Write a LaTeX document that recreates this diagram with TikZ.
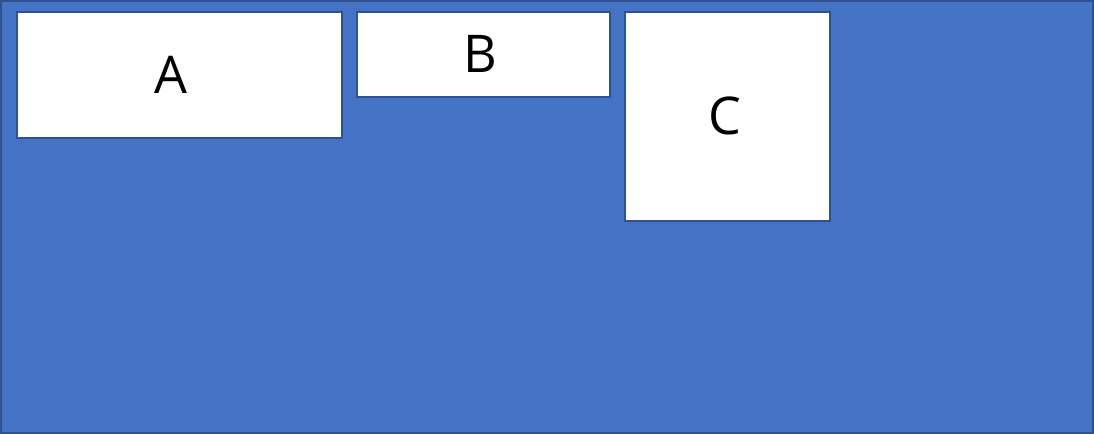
\documentclass[tikz,border=0pt]{standalone}
\usepackage{fontspec}
\setmainfont{Open Sans}
\usepackage{xcolor}
\definecolor{panelblue}{HTML}{4472C4}
\definecolor{edgeblue}{HTML}{2F528F}
\tikzset{
  panel/.style={fill=panelblue, draw=edgeblue, line width=1.4pt},
  card/.style={fill=white, draw=edgeblue, line width=1.2pt, anchor=north west,
    inner sep=0pt, font=\fontsize{37}{40}\selectfont}
}

\begin{document}
\begin{tikzpicture}[x=0.025cm, y=-0.025cm]
        \useasboundingbox (0,0) rectangle (1094,434);
        \draw[panel] (1,1) rectangle (1093,433);
        \node[card, minimum width=0.025*325cm, minimum height=0.025*126cm] (cardA) at (16,11) {\hspace*{-0.4cm}A};
        \node[card, minimum width=0.025*253cm, minimum height=0.025*85cm] (cardB) at (356,11) {\hspace*{-0.15cm}B};
        \node[card, minimum width=0.025*205cm, minimum height=0.025*209cm] (cardC) at (624,11) {\hspace*{-0.1cm}C};
        \end{tikzpicture}
\end{document}
